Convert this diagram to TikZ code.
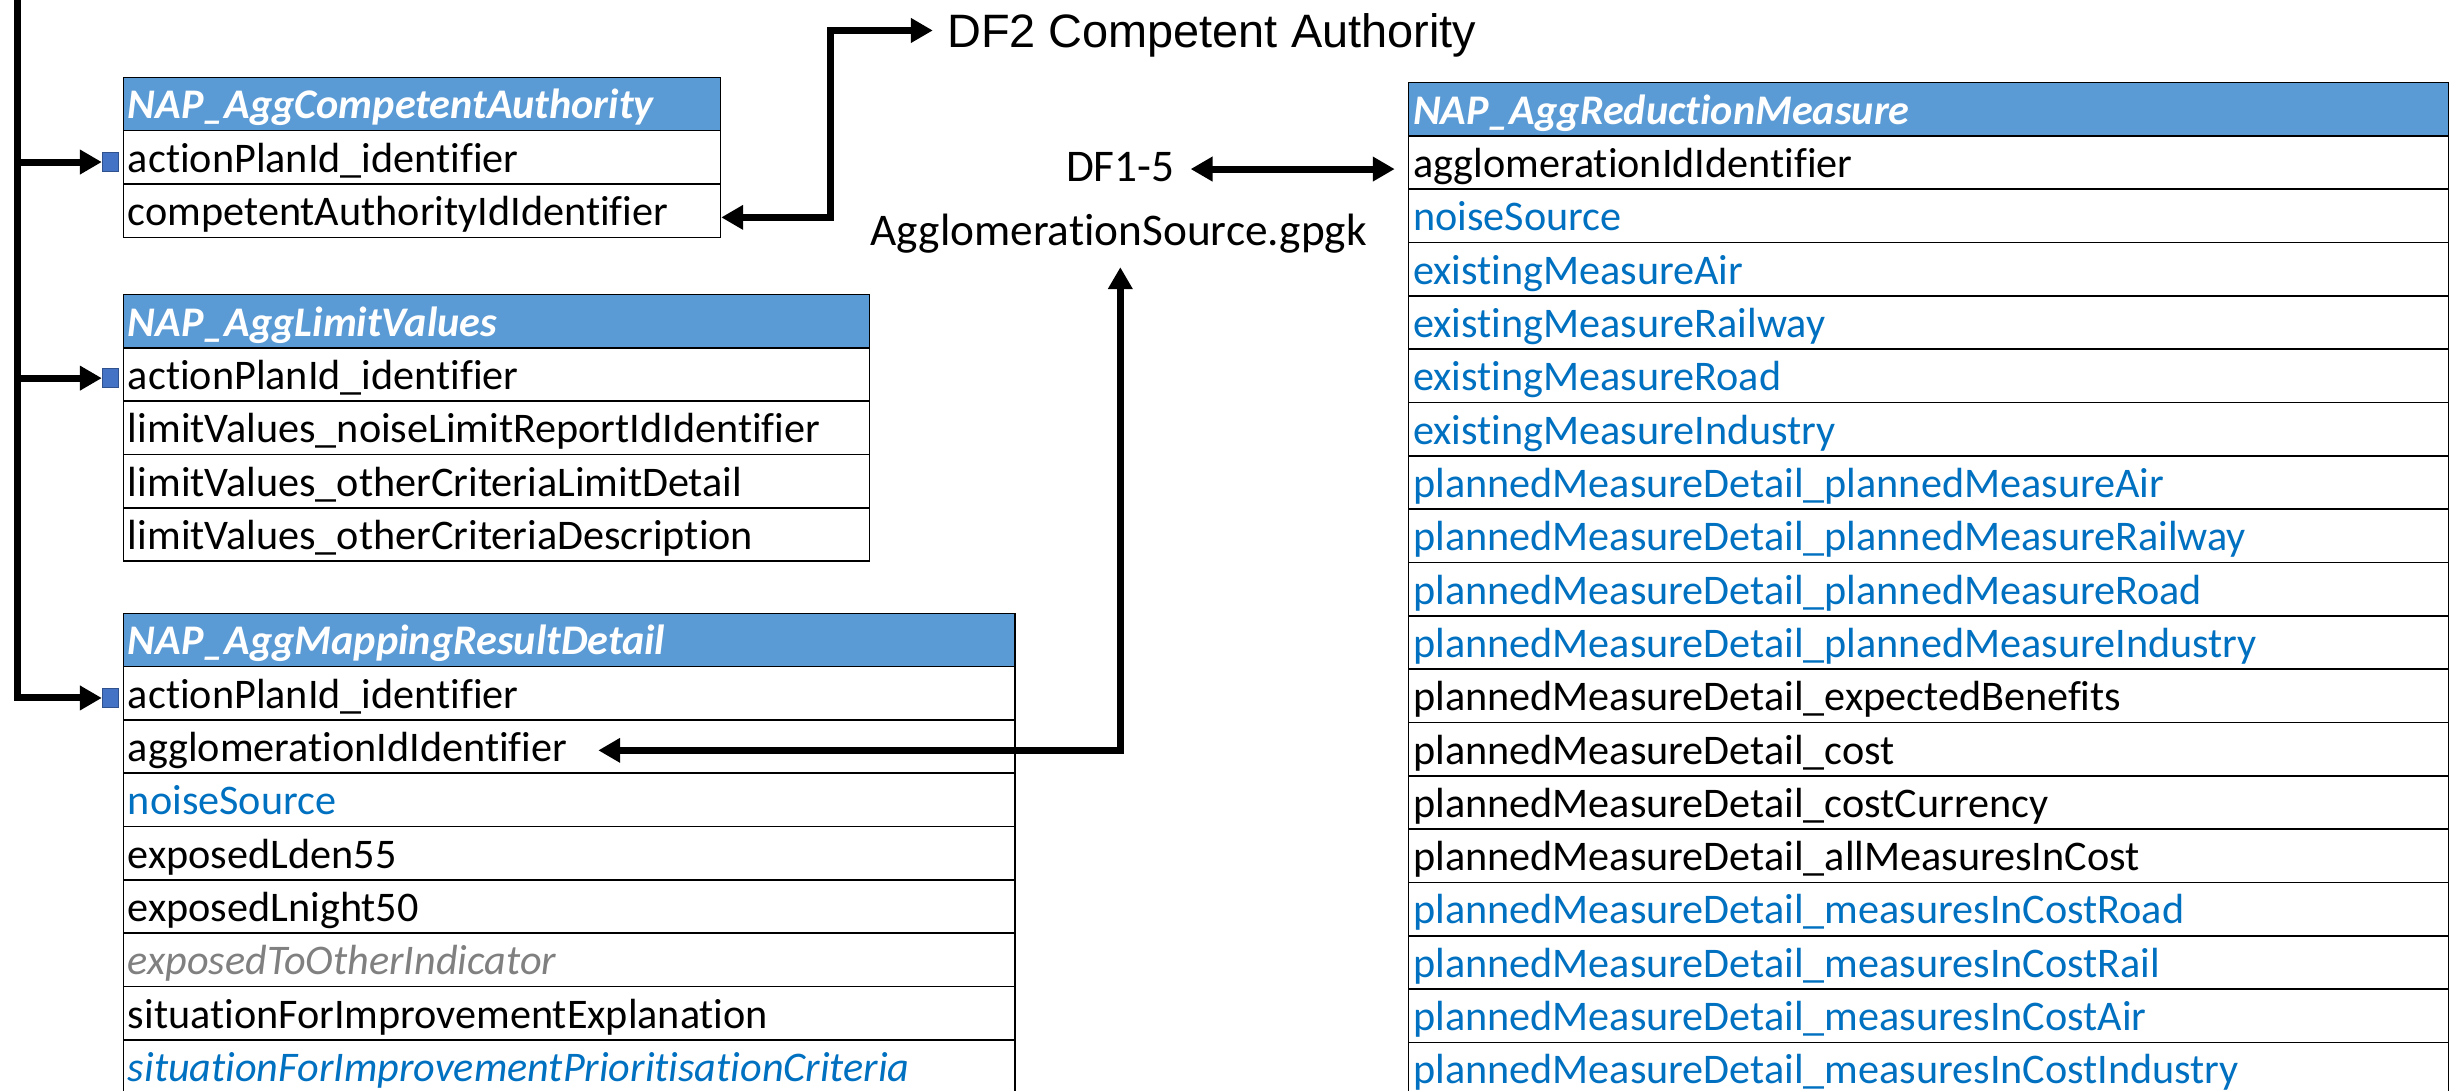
\documentclass[tikz,border=0pt]{standalone}
\usepackage{fontspec}
\setmainfont{Carlito}[Ligatures={NoCommon,NoContextual}]
\newfontfamily\arialf{Liberation Sans}
\usetikzlibrary{arrows.meta,calc}
\definecolor{hdrblue}{HTML}{5B9BD5}
\definecolor{txtblue}{HTML}{0070C0}
\definecolor{txtgrey}{HTML}{808080}
\definecolor{sqfill}{HTML}{4472C4}
\definecolor{sqdraw}{HTML}{2F528F}
\begin{document}
\begin{tikzpicture}[x=1pt,y=-1pt,
  cell/.style={draw=black, line width=1pt, anchor=north west, minimum height=34.13pt,
    inner xsep=3pt, inner ysep=0pt, text height=26.6pt, text depth=7.53pt, align=left,
    font=\fontsize{27}{32}\selectfont},
  row/.style={cell, fill=white},
  hdr/.style={cell, fill=hdrblue, text=white, font=\fontsize{27}{32}\selectfont\bfseries\itshape},
  caw/.style={text width=376.2pt},
  lvw/.style={text width=471.6pt},
  mrw/.style={text width=564.6pt},
  rmw/.style={text width=659.5pt},
  blk/.style={text=black},
  blu/.style={text=txtblue},
  gryit/.style={text=txtgrey, font=\fontsize{27}{32}\selectfont\itshape},
  bluit/.style={text=txtblue, font=\fontsize{27}{32}\selectfont\itshape},
  keysq/.style={draw=sqdraw, fill=sqfill, line width=0.8pt, minimum width=10.5pt,
    minimum height=12pt, inner sep=0pt},
  conn/.style={line width=4.5pt, draw=black, line join=miter},
  >={Triangle[length=14pt,width=15pt]},
  lbl/.style={inner sep=0pt, font=\fontsize{29}{35}\selectfont},
  albl/.style={inner sep=0pt, font=\fontsize{30}{36}\selectfont\arialf}
]
\useasboundingbox (0,0) rectangle (1568,698);
\clip (0,0) rectangle (1568,698);

% ---------- NAP_AggCompetentAuthority ----------
\node[hdr, caw] (ca) at (78.4,49) {NAP\_AggCompetentAuthority};
\node[row, caw] (ca1) at (78.4,83.13) {actionPlanId\_identifier};
\node[row, caw] (ca2) at (78.4,117.26) {competentAuthorityIdIdentifier};

% ---------- NAP_AggLimitValues ----------
\node[hdr, lvw] (lv) at (78.4,188) {NAP\_AggLimitValues};
\foreach \t [count=\i] in {actionPlanId\_identifier,
  limitValues\_noiseLimitReportIdIdentifier,
  limitValues\_otherCriteriaLimitDetail,
  limitValues\_otherCriteriaDescription}
  \node[row, lvw] (lv\i) at (78.4,{188+\i*34.13}) {\t};

% ---------- NAP_AggMappingResultDetail ----------
\node[hdr, mrw] (mr) at (78.4,392) {NAP\_AggMappingResultDetail};
\foreach \s/\t [count=\i] in {blk/actionPlanId\_identifier,
  blk/agglomerationIdIdentifier,
  blu/noiseSource,
  blk/exposedLden55,
  blk/exposedLnight50,
  gryit/exposedToOtherIndicator,
  blk/situationForImprovementExplanation,
  bluit/situationForImprovementPrioritisationCriteria}
  \node[row, mrw, \s] (mr\i) at (78.4,{392+\i*34.13}) {\t};

% ---------- NAP_AggReductionMeasure ----------
\node[hdr, rmw] (rm) at (901,52.3) {NAP\_AggReductionMeasure};
\foreach \s/\t [count=\i] in {blk/agglomerationIdIdentifier,
  blu/noiseSource,
  blu/existingMeasureAir,
  blu/existingMeasureRailway,
  blu/existingMeasureRoad,
  blu/existingMeasureIndustry,
  blu/plannedMeasureDetail\_plannedMeasureAir,
  blu/plannedMeasureDetail\_plannedMeasureRailway,
  blu/plannedMeasureDetail\_plannedMeasureRoad,
  blu/plannedMeasureDetail\_plannedMeasureIndustry,
  blk/plannedMeasureDetail\_expectedBenefits,
  blk/plannedMeasureDetail\_cost,
  blk/plannedMeasureDetail\_costCurrency,
  blk/plannedMeasureDetail\_allMeasuresInCost,
  blu/plannedMeasureDetail\_measuresInCostRoad,
  blu/plannedMeasureDetail\_measuresInCostRail,
  blu/plannedMeasureDetail\_measuresInCostAir,
  blu/plannedMeasureDetail\_measuresInCostIndustry}
  \node[row, rmw, \s] (rm\i) at (901,{52.3+\i*34.13}) {\t};

% ---------- labels ----------
\node[albl, anchor=base west] (df2) at (606,30.5) {DF2 Competent Authority};
\node[lbl, anchor=base] (df15) at (717,116) {DF1-5};
\node[lbl, anchor=base] (aggsrc) at (716,157) {AgglomerationSource.gpgk};

% ---------- key squares ----------
\node[keysq] (kCA) at (70.8,103.7) {};
\node[keysq] (kLV) at (70.8,242) {};
\node[keysq] (kMR) at (70.8,446.7) {};

% ---------- connectors ----------
\coordinate (trunk) at (11,-10);
\draw[conn,->] (trunk) |- (kCA.west);
\draw[conn,->] (trunk) |- (kLV.west);
\draw[conn,->] (trunk) |- (kMR.west);

\draw[conn,<->] ($(ca2.east)+(0,4.3)$) -- ++(70,0) |- ($(df2.base west)+(-9,-11)$);
\draw[conn,<->] ($(rm1.west)+(-139,4.2)$) -- ($(rm1.west)+(-8.4,4.2)$);
\draw[conn,<->] ($(mr2.west)+(304.5,2.4)$) -| ($(aggsrc.base)+(1,14)$);
\end{tikzpicture}
\end{document}
